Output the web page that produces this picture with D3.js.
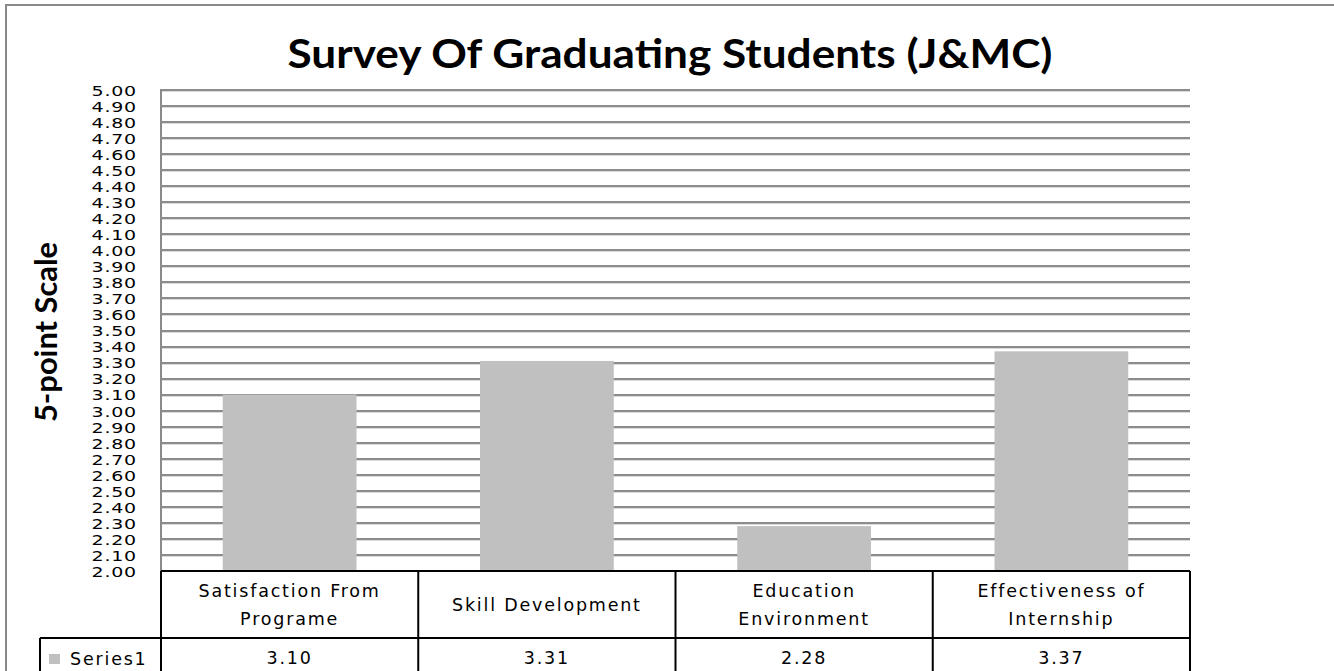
<!DOCTYPE html>
<html><head><meta charset="utf-8">
<script src="https://cdn.jsdelivr.net/npm/d3@7"></script>
<style>body{margin:0;background:#fff}svg{display:block}</style>
</head><body>
<script>
const categories = [["Satisfaction From","Programe"],["Skill Development"],["Education","Environment"],["Effectiveness of","Internship"]];
const seriesName = "Series1";
const values = [3.10, 3.31, 2.28, 3.37];
const yTicks = d3.range(0, 31).map(i => +(2 + i*0.1).toFixed(2));
const titleText = "Survey Of Graduating Students (J&MC)";
const yTitle = "5-point Scale";

(function(){
const W = 1334, H = 671;
const svg = d3.select("body").append("svg").attr("width", W).attr("height", H);

svg.append("rect").attr("x",6).attr("y",5).attr("width",W+20).attr("height",H+20)
  .attr("fill","none").attr("stroke","#898989").attr("stroke-width",2);

const pL = 161, pR = 1190, pT = 90, pB = 571;
const x = d3.scaleBand().domain(d3.range(categories.length)).range([pL, pR]).paddingInner(0).paddingOuter(0);
const y = d3.scaleLinear().domain([2, 5]).range([pB, pT]);

const g = svg.append("g");
yTicks.forEach(t => {
  if (t === 2) return;
  const yy = Math.round(y(t));
  g.append("line").attr("x1",pL).attr("x2",pR).attr("y1",yy+1.5).attr("y2",yy+1.5)
    .attr("stroke","#dadada").attr("stroke-width",1);
  g.append("line").attr("x1",pL).attr("x2",pR).attr("y1",yy).attr("y2",yy)
    .attr("stroke","#8c8c8c").attr("stroke-width",2);
});
g.append("line").attr("x1",pL).attr("x2",pL).attr("y1",pT-1).attr("y2",pB)
  .attr("stroke","#8a8a8a").attr("stroke-width",2);

const bw = x.bandwidth()*0.52;
svg.append("g").selectAll("rect").data(values).join("rect")
  .attr("x",(d,i)=>x(i)+x.bandwidth()/2-bw/2)
  .attr("y",d=>y(d))
  .attr("width",bw)
  .attr("height",d=>pB-y(d))
  .attr("fill","#c0c0c0");

const yAxis = d3.axisLeft(y).tickValues(yTicks).tickFormat(d3.format(".2f")).tickSize(0).tickPadding(0);
const ya = svg.append("g").attr("transform",`translate(${pL-24},0)`).call(yAxis);
ya.select(".domain").remove();
ya.selectAll("text").attr("font-family","DejaVu Sans").attr("font-size",19).attr("fill","#000")
  .attr("letter-spacing",0.8).attr("dy","0.36em").attr("y",0).attr("transform","scale(1,0.71)");
ya.selectAll(".tick").attr("transform", d => `translate(0,${y(d)+1})`);

svg.append("text").attr("x",670).attr("y",68).attr("text-anchor","middle")
  .attr("font-family","Lato").attr("font-weight","bold").attr("font-size",40)
  .attr("textLength",765).attr("lengthAdjust","spacingAndGlyphs")
  .text(titleText);
svg.append("text").attr("transform","translate(57,332) rotate(-90)").attr("text-anchor","middle")
  .attr("font-family","Lato").attr("font-weight","bold").attr("font-size",30)
  .attr("textLength",180).attr("lengthAdjust","spacingAndGlyphs")
  .text(yTitle);

const tb = svg.append("g");
const rowTop = pB, rowMid = 638, rowBot = H+5;
function line(x1,y1,x2,y2){ tb.append("line").attr("x1",x1).attr("y1",y1).attr("x2",x2).attr("y2",y2).attr("stroke","#000").attr("stroke-width",2); }
line(pL,rowTop,pR,rowTop);
line(40,rowMid,pR,rowMid);
line(40,rowMid,40,rowBot);
for (let i=0;i<=categories.length;i++){
  const xx = i<categories.length ? x(i) : pR;
  line(xx,rowTop,xx,rowBot);
}
const ff = "DejaVu Sans", fs = 17.5, lsp = 1.8;
categories.forEach((c,i)=>{
  const cx = x(i)+x.bandwidth()/2;
  const cy = (rowTop+rowMid)/2;
  const lh = 28;
  c.forEach((s,j)=>{
    tb.append("text").attr("x",cx).attr("y",cy + (j-(c.length-1)/2)*lh).attr("dy","0.35em")
      .attr("text-anchor","middle").attr("font-family",ff).attr("font-size",fs)
      .attr("letter-spacing",lsp).attr("fill","#000").text(s);
  });
  tb.append("text").attr("x",cx).attr("y",658).attr("dy","0.35em")
    .attr("text-anchor","middle").attr("font-family",ff).attr("font-size",fs)
    .attr("letter-spacing",lsp).attr("fill","#000").text(d3.format(".2f")(values[i]));
});
tb.append("rect").attr("x",49).attr("y",654).attr("width",11).attr("height",10).attr("fill","#c0c0c0");
tb.append("text").attr("x",70).attr("y",659).attr("dy","0.35em").attr("font-family",ff)
  .attr("font-size",fs).attr("letter-spacing",lsp).text(seriesName);
})();
</script>
</body></html>
